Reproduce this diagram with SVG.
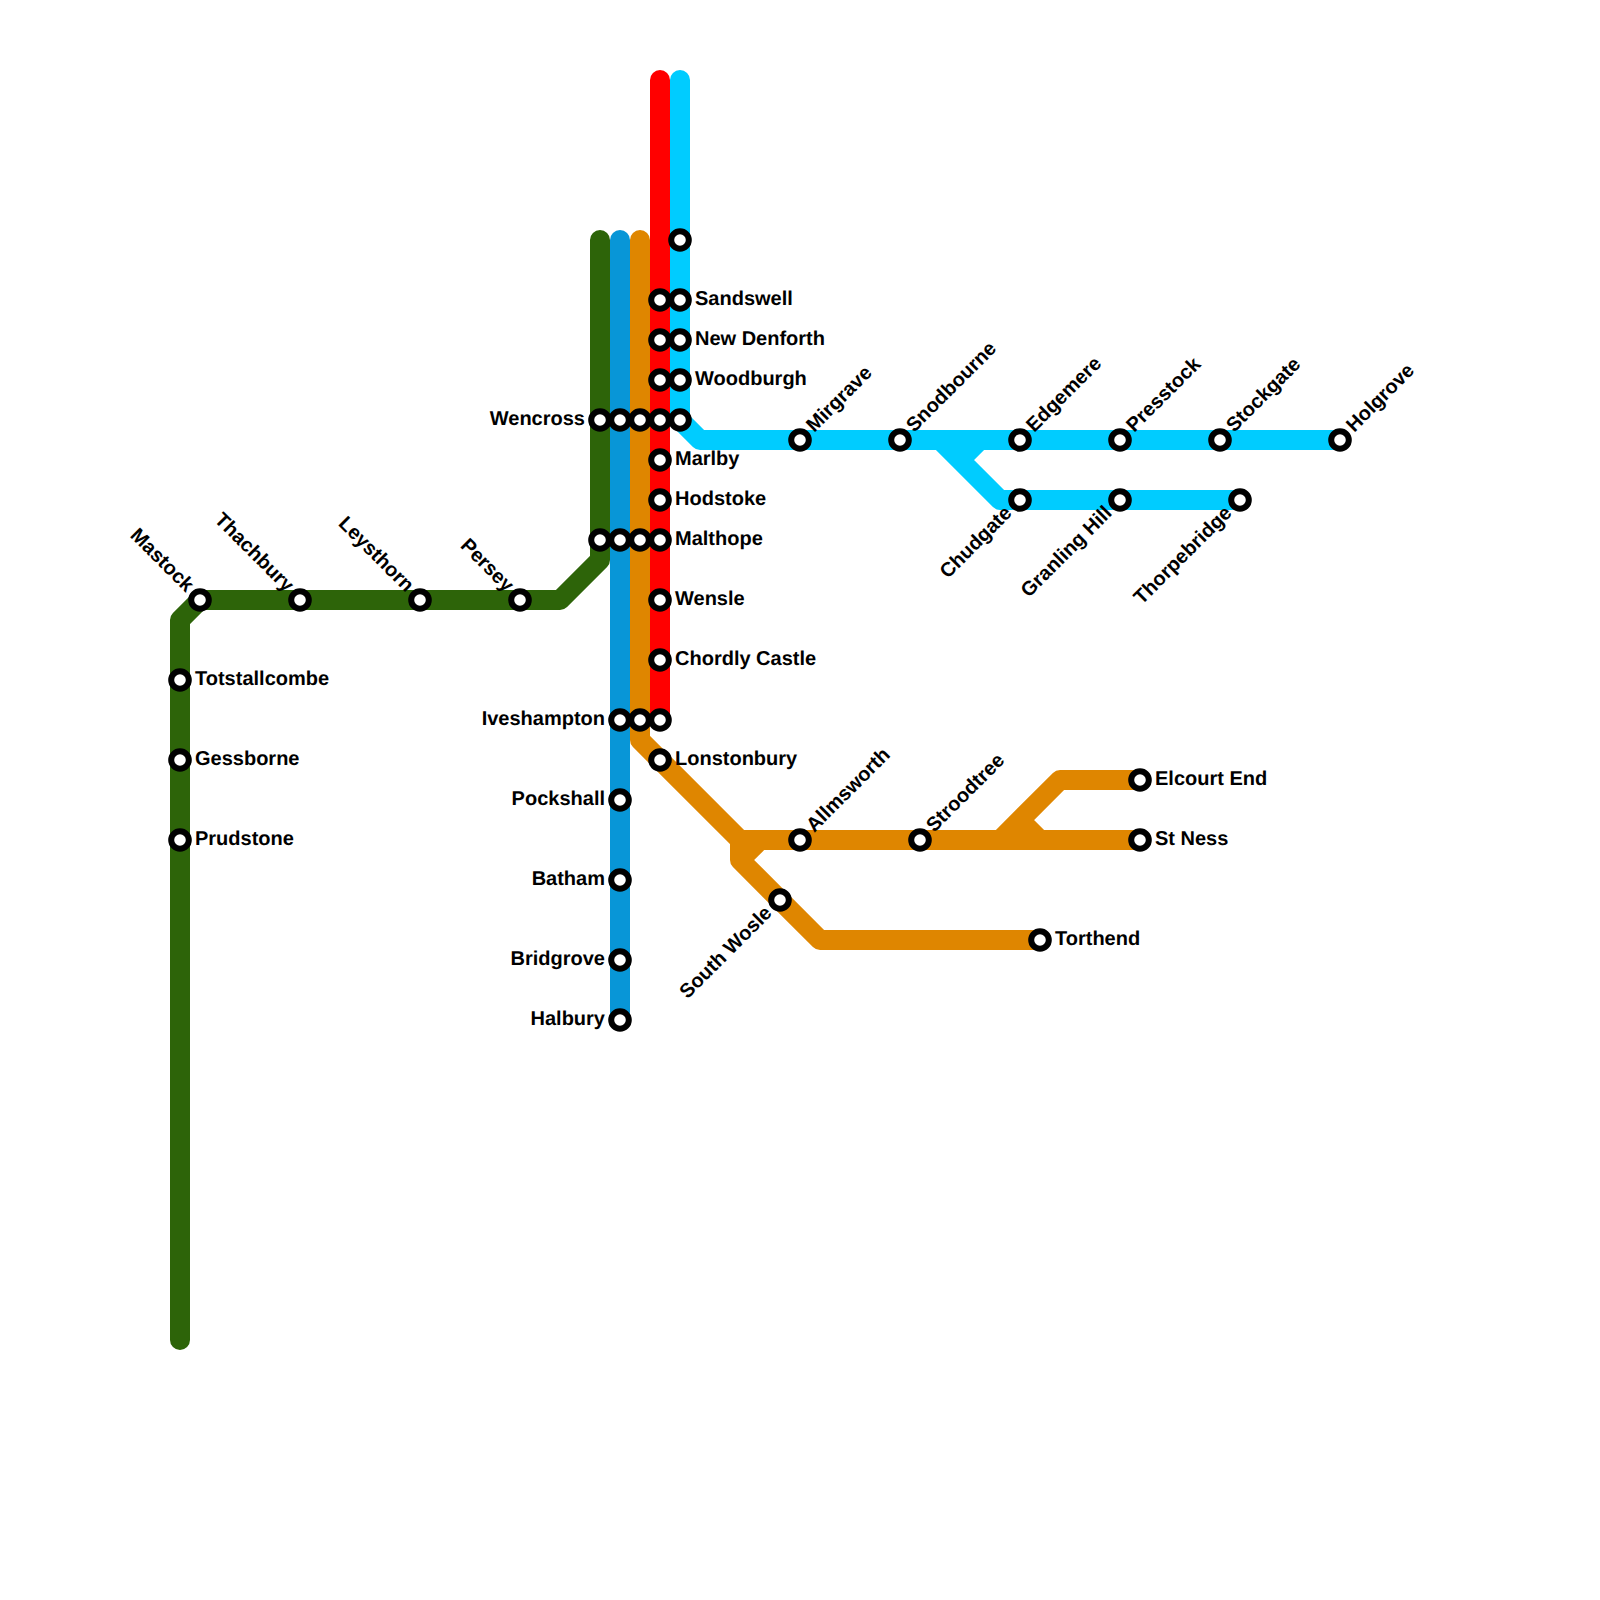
<svg xmlns="http://www.w3.org/2000/svg" width="1600" height="1600" viewBox="0 0 1600 1600">
<style>
.line{fill:none;stroke-width:20;stroke-linecap:round;stroke-linejoin:round}
.st{fill:#fff;stroke:#000;stroke-width:6}
text{font-family:"Liberation Sans",Arial,sans-serif;font-weight:bold;font-size:20px;fill:#000;text-rendering:geometricPrecision}
.e{text-anchor:end}
</style>
<defs><circle id="s" class="st" r="8.8"/></defs>
<rect width="1600" height="1600" fill="#fff"/>
<g id="connectors">
<path class="line" stroke="#2d6409" d="M180 1340V620L200 600H560L600 560V240"/>
<path class="line" stroke="#0896d7" d="M620 240V1020"/>
<path class="line" stroke="#df8600" d="M640 240V740L740 840V860L820 940H1040M740 860L760 840M740 840H1140M1000 840L1060 780H1140M1020 820L1040 840"/>
<path class="line" stroke="#ff0000" d="M660 80V720"/>
<path class="line" stroke="#00ccff" d="M680 80V420L700 440H1340M940 440L1000 500H1240M960 460L980 440"/>
</g>
<g id="n-mastock" transform="translate(200 600)"><use href="#s"/><text class="e" transform="rotate(45)" x="-15" y="5">Mastock</text></g>
<g id="n-thachbury" transform="translate(300 600)"><use href="#s"/><text class="e" transform="rotate(45)" x="-15" y="5">Thachbury</text></g>
<g id="n-leysthorn" transform="translate(420 600)"><use href="#s"/><text class="e" transform="rotate(45)" x="-15" y="5">Leysthorn</text></g>
<g id="n-persey" transform="translate(520 600)"><use href="#s"/><text class="e" transform="rotate(45)" x="-15" y="5">Persey</text></g>
<g id="n-totstallcombe" transform="translate(180 680)"><use href="#s"/><text x="15" y="5">Totstallcombe</text></g>
<g id="n-gessborne" transform="translate(180 760)"><use href="#s"/><text x="15" y="5">Gessborne</text></g>
<g id="n-prudstone" transform="translate(180 840)"><use href="#s"/><text x="15" y="5">Prudstone</text></g>
<g id="n-wencross" transform="translate(600 420)"><use href="#s"/><text class="e" x="-15" y="5">Wencross</text></g>
<g id="n-w2" transform="translate(620 420)"><use href="#s"/></g>
<g id="n-w3" transform="translate(640 420)"><use href="#s"/></g>
<g id="n-w4" transform="translate(660 420)"><use href="#s"/></g>
<g id="n-w5" transform="translate(680 420)"><use href="#s"/></g>
<g id="n-m1" transform="translate(600 540)"><use href="#s"/></g>
<g id="n-m2" transform="translate(620 540)"><use href="#s"/></g>
<g id="n-m3" transform="translate(640 540)"><use href="#s"/></g>
<g id="n-malthope" transform="translate(660 540)"><use href="#s"/><text x="15" y="5">Malthope</text></g>
<g id="n-t1" transform="translate(680 240)"><use href="#s"/></g>
<g id="n-r1" transform="translate(660 300)"><use href="#s"/></g>
<g id="n-r2" transform="translate(660 340)"><use href="#s"/></g>
<g id="n-r3" transform="translate(660 380)"><use href="#s"/></g>
<g id="n-sandswell" transform="translate(680 300)"><use href="#s"/><text x="15" y="5">Sandswell</text></g>
<g id="n-newdenforth" transform="translate(680 340)"><use href="#s"/><text x="15" y="5">New Denforth</text></g>
<g id="n-woodburgh" transform="translate(680 380)"><use href="#s"/><text x="15" y="5">Woodburgh</text></g>
<g id="n-marlby" transform="translate(660 460)"><use href="#s"/><text x="15" y="5">Marlby</text></g>
<g id="n-hodstoke" transform="translate(660 500)"><use href="#s"/><text x="15" y="5">Hodstoke</text></g>
<g id="n-wensle" transform="translate(660 600)"><use href="#s"/><text x="15" y="5">Wensle</text></g>
<g id="n-chordly" transform="translate(660 660)"><use href="#s"/><text x="15" y="5">Chordly Castle</text></g>
<g id="n-iveshampton" transform="translate(620 720)"><use href="#s"/><text class="e" x="-15" y="5">Iveshampton</text></g>
<g id="n-i2" transform="translate(640 720)"><use href="#s"/></g>
<g id="n-i3" transform="translate(660 720)"><use href="#s"/></g>
<g id="n-lonstonbury" transform="translate(660 760)"><use href="#s"/><text x="15" y="5">Lonstonbury</text></g>
<g id="n-pockshall" transform="translate(620 800)"><use href="#s"/><text class="e" x="-15" y="5">Pockshall</text></g>
<g id="n-batham" transform="translate(620 880)"><use href="#s"/><text class="e" x="-15" y="5">Batham</text></g>
<g id="n-bridgrove" transform="translate(620 960)"><use href="#s"/><text class="e" x="-15" y="5">Bridgrove</text></g>
<g id="n-halbury" transform="translate(620 1020)"><use href="#s"/><text class="e" x="-15" y="5">Halbury</text></g>
<g id="n-mirgrave" transform="translate(800 440)"><use href="#s"/><text transform="rotate(-45)" x="15" y="5">Mirgrave</text></g>
<g id="n-snodbourne" transform="translate(900 440)"><use href="#s"/><text transform="rotate(-45)" x="15" y="5">Snodbourne</text></g>
<g id="n-edgemere" transform="translate(1020 440)"><use href="#s"/><text transform="rotate(-45)" x="15" y="5">Edgemere</text></g>
<g id="n-presstock" transform="translate(1120 440)"><use href="#s"/><text transform="rotate(-45)" x="15" y="5">Presstock</text></g>
<g id="n-stockgate" transform="translate(1220 440)"><use href="#s"/><text transform="rotate(-45)" x="15" y="5">Stockgate</text></g>
<g id="n-holgrove" transform="translate(1340 440)"><use href="#s"/><text transform="rotate(-45)" x="15" y="5">Holgrove</text></g>
<g id="n-chudgate" transform="translate(1020 500)"><use href="#s"/><text class="e" transform="rotate(-45)" x="-15" y="5">Chudgate</text></g>
<g id="n-granling" transform="translate(1120 500)"><use href="#s"/><text class="e" transform="rotate(-45)" x="-15" y="5">Granling Hill</text></g>
<g id="n-thorpebridge" transform="translate(1240 500)"><use href="#s"/><text class="e" transform="rotate(-45)" x="-15" y="5">Thorpebridge</text></g>
<g id="n-allmsworth" transform="translate(800 840)"><use href="#s"/><text transform="rotate(-45)" x="15" y="5">Allmsworth</text></g>
<g id="n-stroodtree" transform="translate(920 840)"><use href="#s"/><text transform="rotate(-45)" x="15" y="5">Stroodtree</text></g>
<g id="n-elcourt" transform="translate(1140 780)"><use href="#s"/><text x="15" y="5">Elcourt End</text></g>
<g id="n-stness" transform="translate(1140 840)"><use href="#s"/><text x="15" y="5">St Ness</text></g>
<g id="n-torthend" transform="translate(1040 940)"><use href="#s"/><text x="15" y="5">Torthend</text></g>
<g id="n-southwosle" transform="translate(780 900)"><use href="#s"/><text class="e" transform="rotate(-45)" x="-15" y="5">South Wosle</text></g>
</svg>
